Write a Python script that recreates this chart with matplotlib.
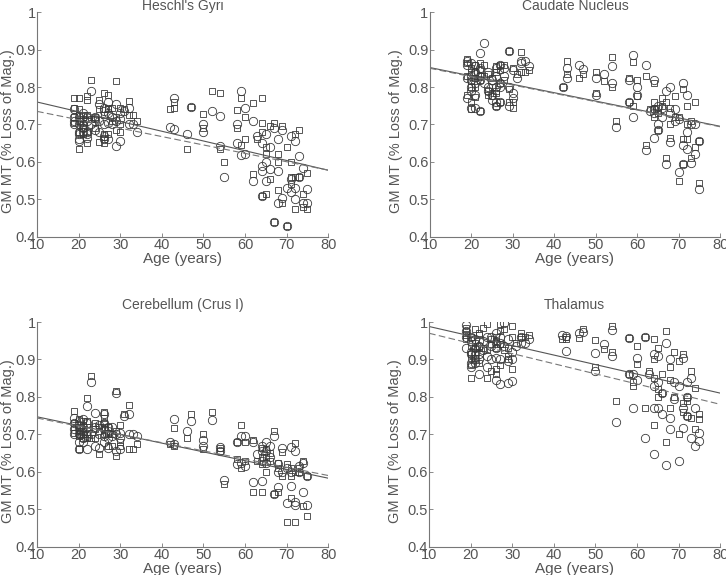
import numpy as np
import matplotlib
matplotlib.use("Agg")
import matplotlib.pyplot as plt
from matplotlib.ticker import FormatStrFormatter

plt.rcParams['font.family'] = ['Liberation Sans', 'DejaVu Sans']

# --- subject ages (same subjects in every panel) ---
ages = np.array([
    19, 19, 19, 19, 20, 20, 20, 20, 20, 20, 21, 21, 21, 21, 21,
    22, 22, 22, 22, 22, 23, 23, 24, 24, 24, 25, 25, 25,
    26, 26, 26, 26, 26, 27, 27, 27, 27, 28, 28, 29, 29, 29,
    30, 30, 30, 31, 32, 32, 33, 34,
    42, 43, 43, 46, 47, 50, 50, 52, 54, 54, 55,
    58, 58, 59, 59, 60, 60, 62, 62, 63, 64, 64, 64, 64, 65, 65, 65,
    66, 66, 67, 67, 68, 68, 68, 69, 69, 70, 70, 71, 71, 71,
    72, 72, 72, 73, 73, 74, 74, 75, 75])

titles = ["Heschl's Gyri", "Caudate Nucleus", "Cerebellum (Crus I)", "Thalamus"]

# --- GM MT values, circles / squares, per panel ---
heschl_circ = [
    .74, .71, .70, .72, .675, .655, .72, .68, .70, .66, .70, .68, .72, .69, .73,
    .68, .665, .71, .72, .675, .79, .70, .72, .685, .71, .755, .68, .71,
    .735, .67, .745, .70, .66, .76, .73, .66, .705, .72, .70, .755, .642, .71,
    .657, .73, .715, .735, .745, .70, .70, .68,
    .692, .772, .688, .675, .748, .70, .68, .736, .722, .642, .56,
    .70, .65, .79, .618, .745, .62, .708, .55, .67, .59, .575, .51, .65, .55, .675, .60,
    .58, .64, .44, .69, .49, .66, .575, .505, .685, .43, .53, .52, .67, .555,
    .50, .655, .53, .615, .56, .49, .585, .528, .49]
heschl_sq = [
    .77, .72, .745, .705, .77, .635, .725, .74, .71, .68, .725, .705, .69, .715, .675,
    .775, .65, .765, .725, .68, .82, .715, .69, .715, .72, .765, .652, .74,
    .785, .65, .66, .725, .675, .78, .745, .675, .74, .745, .71, .815, .685, .72,
    .68, .70, .745, .74, .763, .725, .725, .71,
    .742, .745, .76, .635, .748, .727, .69, .79, .785, .635, .60,
    .738, .69, .772, .645, .72, .66, .757, .568, .66, .77, .51, .68, .705, .515, .64, .62,
    .555, .695, .44, .705, .525, .60, .62, .49, .697, .43, .64, .60, .56, .54,
    .475, .675, .56, .685, .56, .48, .515, .475, .57]

caudate_circ = [
    .87, .77, .825, .86, .80, .745, .83, .865, .79, .82, .745, .81, .84, .78, .855,
    .735, .89, .83, .82, .85, .918, .81, .79, .84, .80, .765, .82, .78,
    .75, .85, .80, .83, .76, .86, .80, .81, .76, .83, .85, .895, .75, .80,
    .785, .845, .77, .825, .865, .87, .87, .855,
    .80, .85, .825, .86, .848, .823, .778, .835, .855, .812, .693,
    .82, .76, .885, .72, .80, .78, .858, .632, .735, .82, .74, .665, .73, .70, .685, .75,
    .72, .745, .79, .595, .80, .652, .73, .74, .71, .715, .572, .81, .645, .595,
    .78, .635, .68, .70, .598, .70, .62, .655, .527]
caudate_sq = [
    .875, .78, .83, .865, .76, .74, .85, .84, .80, .815, .773, .84, .825, .80, .86,
    .735, .865, .845, .83, .82, .86, .83, .78, .835, .79, .775, .825, .80,
    .75, .855, .785, .84, .79, .86, .81, .845, .76, .82, .86, .895, .76, .795,
    .745, .85, .76, .835, .893, .84, .84, .845,
    .80, .87, .835, .825, .835, .84, .785, .815, .88, .80, .71,
    .825, .76, .868, .75, .82, .775, .83, .645, .74, .81, .74, .76, .72, .73, .685, .745,
    .77, .75, .76, .61, .745, .665, .70, .775, .72, .72, .55, .795, .66, .595,
    .75, .66, .70, .71, .61, .76, .64, .655, .545]

crus_circ = [
    .73, .70, .745, .715, .66, .70, .725, .68, .715, .735, .72, .69, .705, .74, .68,
    .777, .662, .73, .71, .695, .84, .70, .757, .67, .72, .665, .70, .725,
    .73, .68, .715, .695, .755, .71, .665, .72, .69, .695, .72, .81, .655, .70,
    .66, .69, .705, .75, .755, .70, .70, .695,
    .68, .74, .675, .71, .737, .685, .668, .738, .667, .655, .578,
    .68, .62, .695, .625, .697, .617, .68, .572, .648, .575, .67, .655, .63, .68, .625, .655,
    .67, .64, .695, .54, .56, .62, .60, .665, .60, .518, .61, .667, .562, .60,
    .655, .512, .52, .60, .615, .625, .547, .512, .588]
crus_sq = [
    .763, .705, .73, .72, .66, .74, .71, .695, .72, .70, .725, .70, .735, .715, .69,
    .797, .69, .735, .72, .70, .855, .69, .73, .69, .715, .648, .72, .71,
    .76, .745, .70, .72, .73, .72, .67, .705, .70, .67, .70, .815, .642, .71,
    .68, .725, .67, .755, .778, .66, .66, .675,
    .675, .717, .668, .69, .755, .70, .662, .76, .655, .665, .567,
    .68, .635, .724, .61, .68, .63, .685, .545, .63, .545, .64, .665, .62, .60, .66, .64,
    .65, .63, .708, .54, .545, .61, .625, .652, .59, .466, .62, .53, .61, .59,
    .676, .466, .60, .61, .60, .63, .51, .483, .588]

thal_circ = [
    .993, .93, .96, .975, .88, .915, .95, .89, .92, .96, .90, .93, .955, .89, .915,
    .86, .90, .95, .915, .935, .95, .925, .88, .96, .91, .96, .90, .935,
    .845, .945, .905, .97, .93, .835, .96, .90, .945, .998, .935, .838, .895, .955,
    .842, .92, .90, .935, .96, .945, .945, .955,
    .965, .962, .923, .97, .972, .918, .87, .94, .978, .91, .732,
    .957, .86, .77, .86, .905, .845, .96, .69, .86, .915, .77, .648, .83, .91, .77, .84,
    .755, .81, .943, .618, .90, .745, .715, .84, .795, .83, .63, .905, .718, .77,
    .84, .75, .80, .85, .69, .77, .67, .705, .683]
thal_sq = [
    .975, .955, .965, .985, .85, .905, .96, .885, .915, .935, .93, .98, .945, .905, .92,
    .93, .89, .965, .935, .97, .985, .93, .85, .995, .925, .955, .87, .94,
    .86, .96, .875, .95, .93, .995, .94, .885, .975, .98, .925, .91, .90, .93,
    .99, .875, .96, .945, .97, .96, .96, .965,
    .955, .955, .96, .958, .98, .952, .88, .927, .99, .92, .79,
    .957, .86, .83, .84, .937, .888, .96, .77, .87, .955, .90, .725, .85, .93, .80, .82,
    .81, .86, .975, .68, .88, .77, .845, .92, .80, .895, .70, .915, .76, .785,
    .80, .75, .79, .87, .745, .825, .715, .755, .74]

circ_sets = [heschl_circ, caudate_circ, crus_circ, thal_circ]
sq_sets = [heschl_sq, caudate_sq, crus_sq, thal_sq]

# regression fits: (intercept, slope)
fit_solid = [(0.786, -0.00260), (0.8744, -0.00224), (0.7704, -0.00234), (1.0134, -0.00254)]
fit_dashed = [(0.7574, -0.00224), (0.8723, -0.00223), (0.7656, -0.00219), (0.9971, -0.00271)]

# axes positions in figure fractions
positions = [
    [0.051, 0.588, 0.401, 0.391],
    [0.592, 0.588, 0.400, 0.391],
    [0.051, 0.049, 0.401, 0.391],
    [0.591, 0.049, 0.401, 0.391],
]
title_y = [1.027, 1.027, 1.076, 1.076]
ylabel_x = [-0.076, -0.093, -0.076, -0.093]

txt = '#555555'
fig = plt.figure(figsize=(7.26, 5.75), dpi=100)

for i in range(4):
    ax = fig.add_axes(positions[i])
    ax.plot(ages, circ_sets[i], 'o', ms=6, mfc='none', mec='#3a3a3a', mew=0.6)
    ax.plot(ages, sq_sets[i], 's', ms=4.6, mfc='none', mec='#3a3a3a', mew=0.6)

    xs = np.array([10, 80])
    a, b = fit_solid[i]
    ax.plot(xs, a + b * xs, '-', color='#555555', lw=0.8)
    a, b = fit_dashed[i]
    ax.plot(xs, a + b * xs, '--', color='#777777', lw=0.8, dashes=(6, 3))

    ax.set_xlim(10, 80)
    ax.set_ylim(0.4, 1)
    ax.set_xticks(range(10, 81, 10))
    ax.set_yticks(np.arange(0.4, 1.01, 0.1))
    ax.yaxis.set_major_formatter(FormatStrFormatter('%g'))
    ax.tick_params(direction='in', length=3, width=0.6, colors='#777777',
                   labelcolor=txt, labelsize=10.5, pad=1)
    for s in ['top', 'right']:
        ax.spines[s].set_visible(False)
    for s in ['left', 'bottom']:
        ax.spines[s].set_color('#777777')
        ax.spines[s].set_linewidth(0.8)

    ax.text(0.5, title_y[i], titles[i], transform=ax.transAxes, ha='center',
            va='center', fontsize=10, color=txt)
    ax.set_xlabel('Age (years)', fontsize=11, color=txt, labelpad=0)
    ax.set_ylabel('GM MT (% Loss of Mag.)', fontsize=10.5, color=txt)
    ax.yaxis.set_label_coords(ylabel_x[i], 0.47)

fig.savefig('out.png', dpi=100)
